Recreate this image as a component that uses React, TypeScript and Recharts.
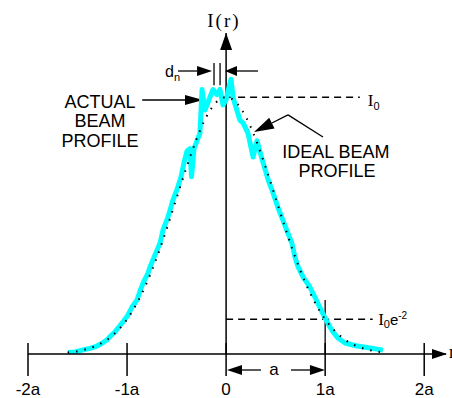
import React from 'react';
import { ComposedChart, Line, XAxis, YAxis, ReferenceLine, ReferenceDot } from 'recharts';

// Radial position in units of the beam radius a
const actualRadius = [
  -1.596, -1.525, -1.445, -1.374, -1.303, -1.253, -1.203, -1.162, -1.122, -1.081,
  -1.041, -0.99, -0.95, -0.899, -0.869, -0.839, -0.788, -0.768, -0.718, -0.667,
  -0.637, -0.587, -0.536, -0.496, -0.455, -0.425, -0.395, -0.365, -0.349, -0.324,
  -0.294, -0.264, -0.243, -0.213, -0.173, -0.132, -0.092, -0.062, -0.031, 0.0,
  0.03, 0.05, 0.07, 0.1, 0.14, 0.171, 0.221, 0.272, 0.312, 0.362,
  0.393, 0.423, 0.474, 0.524, 0.574, 0.625, 0.665, 0.695, 0.726, 0.776,
  0.847, 0.898, 0.948, 0.999, 1.049, 1.079, 1.13, 1.2, 1.321, 1.453, 1.584,
];
// Measured intensity, relative to the peak I0
const actualIntensity = [
  0.006, 0.008, 0.016, 0.022, 0.031, 0.042, 0.055, 0.072, 0.086, 0.106,
  0.125, 0.152, 0.183, 0.21, 0.245, 0.276, 0.315, 0.339, 0.386, 0.432,
  0.483, 0.533, 0.6, 0.64, 0.69, 0.745, 0.79, 0.8, 0.69, 0.8,
  0.83, 0.86, 1.03, 0.95, 0.99, 1.03, 1.01, 1.03, 0.97, 0.99,
  1.04, 1.07, 1.0, 0.96, 0.91, 0.9, 0.86, 0.767, 0.83, 0.76,
  0.72, 0.68, 0.627, 0.57, 0.52, 0.47, 0.43, 0.378, 0.34, 0.3,
  0.26, 0.22, 0.18, 0.14, 0.105, 0.086, 0.062, 0.043, 0.031, 0.023, 0.015,
];

// Ideal Gaussian profile
const idealRadius = [
  -1.6, -1.5, -1.4, -1.3, -1.2, -1.1, -1.0, -0.9, -0.8, -0.7, -0.6, -0.5, -0.4, -0.3, -0.2, -0.1,
  0, 0.1, 0.2, 0.3, 0.4, 0.5, 0.6, 0.7, 0.8, 0.9, 1.0, 1.1, 1.2, 1.3, 1.4, 1.5, 1.6,
];
const idealIntensity = [
  0.006, 0.011, 0.02, 0.034, 0.056, 0.089, 0.135, 0.198, 0.278, 0.375, 0.487, 0.607, 0.726, 0.835, 0.923, 0.98,
  1.0, 0.98, 0.923, 0.835, 0.726, 0.607, 0.487, 0.375, 0.278, 0.198, 0.135, 0.089, 0.056, 0.034, 0.02, 0.011, 0.006,
];

const tickValues = [-2, -1, 0, 1, 2];
const tickLabels = ['-2a', '-1a', '0', '1a', '2a'];

const peakLevel = 1; // I0
const waistLevel = 0.135; // I0 e^-2
const waistRadius = 1;

const actualData = actualRadius.map((r, i) => ({ r, actual: actualIntensity[i] }));
const idealData = idealRadius.map((r, i) => ({ r, ideal: idealIntensity[i] }));

const SANS = 'Liberation Sans, Arial, Helvetica, sans-serif';
const SERIF = 'Liberation Serif, Times New Roman, serif';
const INK = '#000';
const BEAM = '#00FFFF';

type Pt = { x: number; y: number };

// Plain line segment
const plainShape = (p: any) => (
  <line x1={p.x1} y1={p.y1} x2={p.x2} y2={p.y2} stroke={INK} strokeWidth={1.3} />
);

// Line ending in a filled arrowhead at its second point
const arrowShape = (len: number, half: number) => (p: any) => {
  const { x1, y1, x2, y2 } = p;
  const a = Math.atan2(y2 - y1, x2 - x1);
  const c = Math.cos(a);
  const s = Math.sin(a);
  const bx = x2 - len * c;
  const by = y2 - len * s;
  const pts = `${x2},${y2} ${bx - s * half},${by + c * half} ${bx + s * half},${by - c * half}`;
  return (
    <g>
      <line x1={x1} y1={y1} x2={bx} y2={by} stroke={INK} strokeWidth={1.3} />
      <polygon points={pts} fill={INK} />
    </g>
  );
};

const AxisTick = (props: any) => {
  const { x, y, payload } = props;
  const label = tickLabels[tickValues.indexOf(payload.value)];
  return (
    <g>
      <line x1={x} x2={x} y1={y - 11} y2={y + 22} stroke={INK} strokeWidth={1.5} />
      <text x={x} y={y + 41} textAnchor="middle" fontFamily={SANS} fontSize={17} fill={INK}>
        {label}
      </text>
    </g>
  );
};

// Leader lines and arrows, in axis units (r / a, I / I0)
const arrows: { from: Pt; to: Pt; head: [number, number] | null }[] = [
  { from: { x: -0.847, y: 0.989 }, to: { x: -0.233, y: 0.989 }, head: [18, 5] },
  { from: { x: -0.486, y: 1.102 }, to: { x: -0.142, y: 1.102 }, head: [15, 5] },
  { from: { x: 0.322, y: 1.102 }, to: { x: -0.011, y: 1.102 }, head: [12, 5] },
  { from: { x: 0.978, y: 0.845 }, to: { x: 0.625, y: 0.931 }, head: null },
  { from: { x: 0.625, y: 0.931 }, to: { x: 0.282, y: 0.8645 }, head: [20, 6] },
  { from: { x: 0.352, y: -0.0623 }, to: { x: 0.009, y: -0.0623 }, head: [15, 5] },
  { from: { x: 0.655, y: -0.0623 }, to: { x: 0.998, y: -0.0623 }, head: [15, 5] },
  { from: { x: -0.122, y: 1.047 }, to: { x: -0.122, y: 1.133 }, head: null },
  { from: { x: -0.061, y: 1.047 }, to: { x: -0.061, y: 1.133 }, head: null },
  { from: { x: waistRadius, y: 0 }, to: { x: waistRadius, y: 0.21 }, head: null },
];

const sub = (t: string) => (
  <tspan fontFamily={SANS} fontSize={11} dy={4}>
    {t}
  </tspan>
);

type Note = { x: number; y: number; render: (cx: number, cy: number) => React.ReactNode };

const notes: Note[] = [
  {
    x: -0.19,
    y: 1.273,
    render: (cx, cy) => (
      <text x={cx} y={cy} fontFamily={SERIF} fontSize={19} letterSpacing={2} fill={INK}>
        I(r)
      </text>
    ),
  },
  {
    x: 1.43,
    y: 0.966,
    render: (cx, cy) => (
      <text x={cx} y={cy} fontFamily={SERIF} fontSize={17} fill={INK}>
        I{sub('0')}
      </text>
    ),
  },
  {
    x: 1.535,
    y: 0.113,
    render: (cx, cy) => (
      <text x={cx} y={cy} fontFamily={SERIF} fontSize={17} fill={INK}>
        I
        <tspan fontFamily={SANS} fontSize={11} dy={3}>0</tspan>
        <tspan fontFamily={SANS} fontSize={15} dy={-3}>e</tspan>
        <tspan fontFamily={SANS} fontSize={10} dy={-6}>-2</tspan>
      </text>
    ),
  },
  {
    x: -0.617,
    y: 1.079,
    render: (cx, cy) => (
      <text x={cx} y={cy} fontFamily={SANS} fontSize={16} fill={INK}>
        d{sub('n')}
      </text>
    ),
  },
  {
    x: -1.273,
    y: 0.958,
    render: (cx, cy) => (
      <text x={cx} y={cy} fontFamily={SANS} fontSize={18} fill={INK} textAnchor="middle">
        <tspan x={cx}>ACTUAL</tspan>
        <tspan x={cx} dy={19.5}>BEAM</tspan>
        <tspan x={cx} dy={19.5}>PROFILE</tspan>
      </text>
    ),
  },
  {
    x: 1.109,
    y: 0.763,
    render: (cx, cy) => (
      <text x={cx} y={cy} fontFamily={SANS} fontSize={18} fill={INK} textAnchor="middle">
        <tspan x={cx}>IDEAL BEAM</tspan>
        <tspan x={cx + 1} dy={18.5}>PROFILE</tspan>
      </text>
    ),
  },
  {
    x: 0.484,
    y: -0.082,
    render: (cx, cy) => (
      <text x={cx} y={cy} fontFamily={SANS} fontSize={17} fill={INK} textAnchor="middle">
        a
      </text>
    ),
  },
  {
    x: 2.25,
    y: -0.016,
    render: (cx, cy) => (
      <text x={cx} y={cy} fontFamily={SERIF} fontSize={18} fill={INK}>
        r
      </text>
    ),
  },
];

export default function App() {
  return (
    <div style={{ position: 'absolute', left: 0, top: 0, width: 452, height: 398, background: '#fff' }}>
      <ComposedChart width={452} height={398} margin={{ top: 33, right: 6, bottom: 0, left: 28 }}>
        <XAxis
          type="number"
          dataKey="r"
          domain={[-2, 2.22]}
          allowDataOverflow
          ticks={tickValues}
          interval={0}
          height={44}
          tickSize={0}
          tickMargin={0}
          tickLine={false}
          axisLine={{ stroke: INK, strokeWidth: 1.5 }}
          tick={(p: any) => <AxisTick {...p} />}
        />
        <YAxis type="number" domain={[0, 1.25]} allowDataOverflow hide />

        {/* vertical intensity axis */}
        <ReferenceLine x={0} stroke={INK} strokeWidth={1.5} ifOverflow="visible" />
        <ReferenceDot
          x={0}
          y={1.25}
          ifOverflow="visible"
          shape={(p: any) => (
            <polygon points={`${p.cx},${p.cy} ${p.cx - 6},${p.cy + 17} ${p.cx + 6},${p.cy + 17}`} fill={INK} />
          )}
        />
        <ReferenceDot
          x={2.22}
          y={0}
          ifOverflow="visible"
          shape={(p: any) => (
            <polygon points={`${p.cx + 1},${p.cy} ${p.cx - 14},${p.cy - 5} ${p.cx - 14},${p.cy + 5}`} fill={INK} />
          )}
        />

        {/* I0 and I0 e^-2 levels */}
        <ReferenceLine
          segment={[{ x: 0, y: peakLevel }, { x: 1.35, y: peakLevel }]}
          stroke={INK}
          strokeWidth={1.5}
          strokeDasharray="7 5"
          ifOverflow="visible"
        />
        <ReferenceLine
          segment={[{ x: 0, y: waistLevel }, { x: 1.48, y: waistLevel }]}
          stroke={INK}
          strokeWidth={1.5}
          strokeDasharray="7 5"
          ifOverflow="visible"
        />

        {arrows.map((a, i) => (
          <ReferenceLine
            key={`arrow-${i}`}
            segment={[a.from, a.to]}
            ifOverflow="visible"
            shape={a.head ? arrowShape(a.head[0], a.head[1]) : plainShape}
          />
        ))}

        <Line
          data={actualData}
          dataKey="actual"
          type="linear"
          stroke={BEAM}
          strokeWidth={5}
          strokeLinejoin="round"
          dot={false}
          activeDot={false}
          isAnimationActive={false}
        />
        <Line
          data={idealData}
          dataKey="ideal"
          type="monotone"
          stroke={INK}
          strokeWidth={2}
          strokeDasharray="1.5 7"
          dot={false}
          activeDot={false}
          isAnimationActive={false}
        />

        {notes.map((n, i) => (
          <ReferenceDot
            key={`note-${i}`}
            x={n.x}
            y={n.y}
            ifOverflow="visible"
            shape={(p: any) => <g>{n.render(p.cx, p.cy)}</g>}
          />
        ))}
      </ComposedChart>
    </div>
  );
}
